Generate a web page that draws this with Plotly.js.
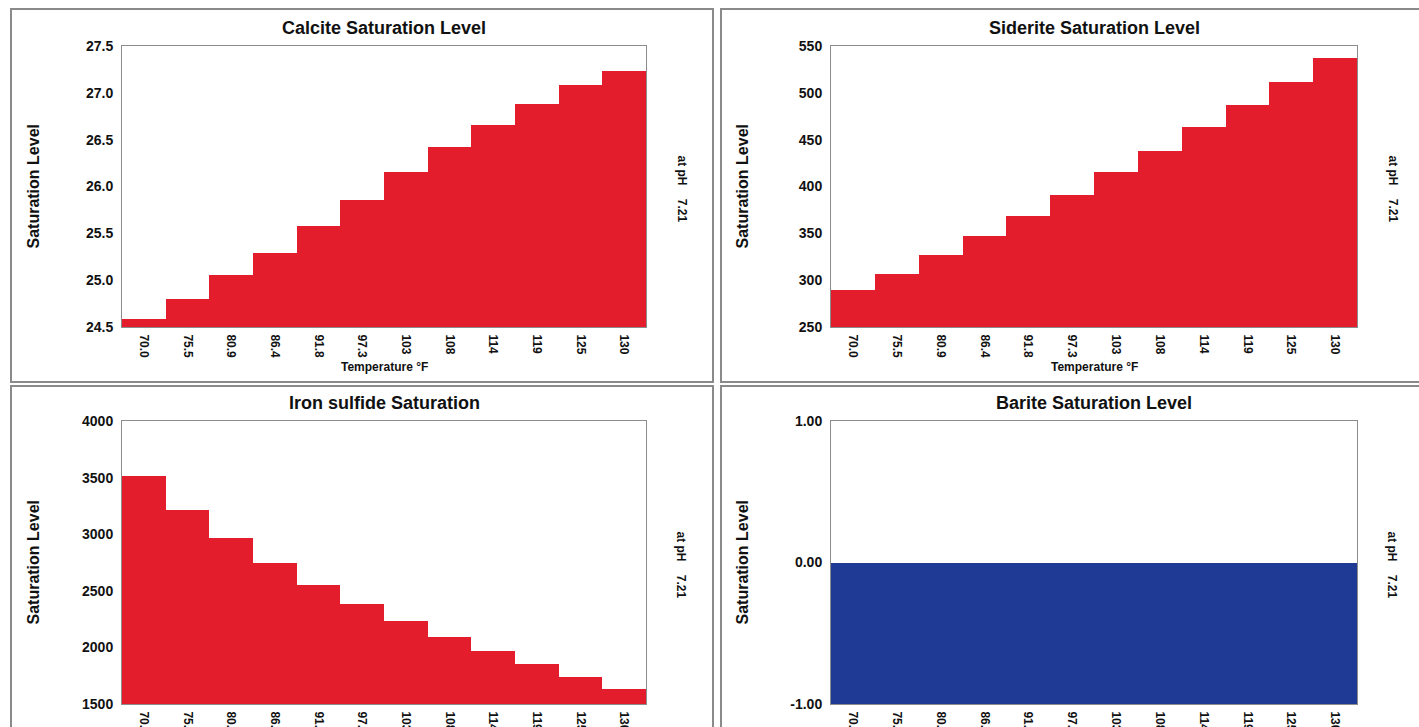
<!DOCTYPE html>
<html>
<head>
<meta charset="utf-8">
<script src="https://cdn.plot.ly/plotly-3.0.1.min.js"></script>
<style>
  html, body { margin: 0; padding: 0; background: #ffffff; overflow: hidden; }
  #chart { width: 1419px; height: 727px; }
</style>
</head>
<body>
<div id="chart"></div>
<script>
// ---- data ----
const temperatures = ["70.0", "75.5", "80.9", "86.4", "91.8", "97.3", "103", "108", "114", "119", "125", "130"];
const calcite = [24.59, 24.80, 25.05, 25.29, 25.58, 25.86, 26.15, 26.42, 26.66, 26.88, 27.08, 27.23];
const siderite = [289, 307, 327, 347, 369, 391, 415, 438, 463, 487, 512, 537];
const ironSulfide = [3510, 3212, 2964, 2746, 2554, 2380, 2232, 2096, 1972, 1851, 1739, 1630];
const barite = [-1, -1, -1, -1, -1, -1, -1, -1, -1, -1, -1, -1];
const bariteTickVals = [-1, 0, 1];
const bariteTickText = ["-1.00", "0.00", "1.00"];
const panelTitles = ["Calcite Saturation Level", "Siderite Saturation Level", "Iron sulfide Saturation", "Barite Saturation Level"];
const phValue = "7.21";

// ---- layout helpers ----
const W = 1419, H = 727;
const px = x => x / W;
const py = y => 1 - y / H;
const FONT = "Liberation Sans, Arial, Helvetica, sans-serif";
const RED = "#e31d2c";
const BLUE = "#1e3a94";

const panels = [
  { x0: 122, x1: 646, y0: 46, y1: 327, data: calcite, color: RED, range: [24.5, 27.5], dtick: 0.5, fmt: ".1f", xTitle: true },
  { x0: 831, x1: 1357, y0: 46, y1: 327, data: siderite, color: RED, range: [250, 550], dtick: 50, fmt: "d", xTitle: true },
  { x0: 122, x1: 646, y0: 421, y1: 704, data: ironSulfide, color: RED, range: [1500, 4000], dtick: 500, fmt: "d", xTitle: false },
  { x0: 831, x1: 1357, y0: 421, y1: 704, data: barite, color: BLUE, range: [-1, 1], dtick: 1, fmt: ".2f", xTitle: false,
    tickvals: bariteTickVals, ticktext: bariteTickText }
];

const traces = [];
const layout = {
  width: W, height: H,
  margin: { l: 0, r: 0, t: 0, b: 0 },
  paper_bgcolor: "#ffffff",
  plot_bgcolor: "#ffffff",
  showlegend: false,
  bargap: 0,
  font: { family: FONT, color: "#111111" },
  annotations: [],
  shapes: []
};

// panel frames
const frames = [
  [11, 9, 713, 382],
  [721, 9, 1440, 382],
  [11, 386, 713, 760],
  [721, 386, 1440, 760]
];
frames.forEach(f => {
  layout.shapes.push({
    type: "rect", xref: "paper", yref: "paper",
    x0: px(f[0]), x1: px(f[2]), y0: py(f[1]), y1: py(f[3]),
    line: { color: "#8a8a8a", width: 2 }, fillcolor: "rgba(0,0,0,0)", layer: "below"
  });
});

panels.forEach((p, i) => {
  const n = i + 1;
  const xa = n === 1 ? "xaxis" : "xaxis" + n;
  const ya = n === 1 ? "yaxis" : "yaxis" + n;
  traces.push({
    type: "bar",
    x: temperatures,
    y: p.data,
    xaxis: "x" + (n === 1 ? "" : n),
    yaxis: "y" + (n === 1 ? "" : n),
    marker: { color: p.color, line: { width: 0 } },
    hoverinfo: "x+y"
  });
  layout[xa] = {
    domain: [px(p.x0), px(p.x1)],
    anchor: "y" + (n === 1 ? "" : n),
    type: "category",
    range: [-0.5, 11.5],
    tickangle: 90,
    tickfont: { family: FONT, size: 12, weight: "bold", color: "#111111" },
    ticks: "",
    ticklabelstandoff: 4,
    showgrid: false,
    showline: true, linecolor: "#8c8c8c", linewidth: 1, mirror: true,
    zeroline: false, fixedrange: true
  };
  const yax = {
    domain: [py(p.y1), py(p.y0)],
    anchor: "x" + (n === 1 ? "" : n),
    range: p.range,
    tickfont: { family: FONT, size: 14, weight: "bold", color: "#111111" },
    ticks: "",
    ticklabelstandoff: 5,
    showgrid: false,
    showline: true, linecolor: "#8c8c8c", linewidth: 1, mirror: true,
    zeroline: false, fixedrange: true
  };
  if (p.tickvals) {
    yax.tickmode = "array";
    yax.tickvals = p.tickvals;
    yax.ticktext = p.ticktext;
  } else {
    yax.dtick = p.dtick;
    yax.tick0 = p.range[0];
    yax.tickformat = p.fmt;
  }
  layout[ya] = yax;
  const cx = (p.x0 + p.x1) / 2;
  const cy = (p.y0 + p.y1) / 2;
  // title
  layout.annotations.push({
    xref: "paper", yref: "paper", x: px(cx), y: py(p.y0 - 18),
    text: panelTitles[i], showarrow: false, xanchor: "center", yanchor: "middle",
    font: { family: FONT, size: 18, weight: "bold", color: "#111111" }
  });
  // y-axis title
  layout.annotations.push({
    xref: "paper", yref: "paper", x: px(p.x0 - 89), y: py(cy),
    text: "Saturation Level", showarrow: false, textangle: -90,
    xanchor: "center", yanchor: "middle",
    font: { family: FONT, size: 16, weight: "bold", color: "#111111" }
  });
  // pH note
  layout.annotations.push({
    xref: "paper", yref: "paper", x: px(p.x1 + 35), y: py(cy + 2),
    text: "at pH\u00a0\u00a0\u00a0\u00a0" + phValue, showarrow: false, textangle: 90,
    xanchor: "center", yanchor: "middle",
    font: { family: FONT, size: 12, weight: "bold", color: "#111111" }
  });
  if (p.xTitle) {
    layout.annotations.push({
      xref: "paper", yref: "paper", x: px(cx), y: py(367),
      text: "Temperature °F", showarrow: false, xanchor: "center", yanchor: "middle",
      font: { family: FONT, size: 12, weight: "bold", color: "#111111" }
    });
  }
});

Plotly.newPlot("chart", traces, layout, { displayModeBar: false, staticPlot: true });
</script>
</body>
</html>
